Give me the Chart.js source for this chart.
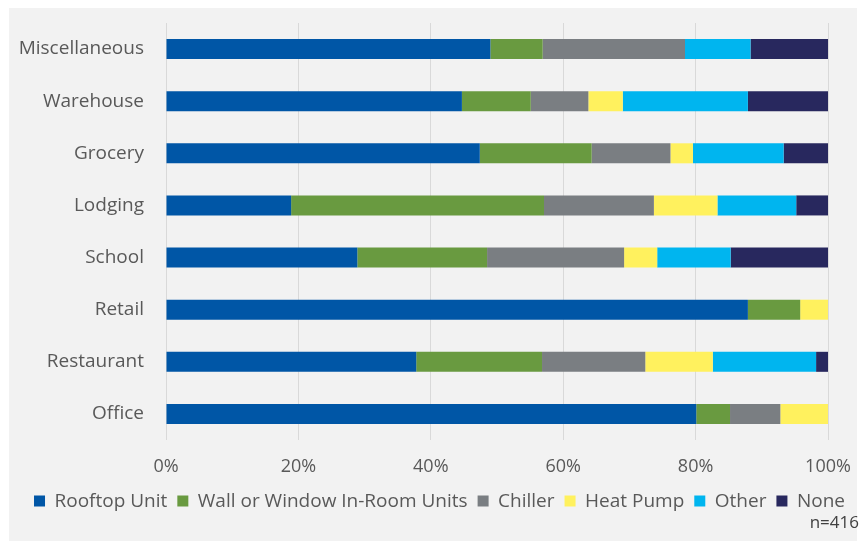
<!DOCTYPE html>
<html>
<head>
<meta charset="utf-8">
<script src="https://cdn.jsdelivr.net/npm/chart.js@4"></script>
<style>
  body { margin: 0; background: #ffffff; }
  #wrap { width: 859px; height: 541px; }
</style>
</head>
<body>
<div id="wrap"><canvas id="myChart"></canvas></div>
<script>
// building types, top to bottom
const categories = ['Miscellaneous', 'Warehouse', 'Grocery', 'Lodging', 'School', 'Retail', 'Restaurant', 'Office'];

// share of buildings by cooling type (%)
const rooftopUnit = [49.0, 44.7, 47.4, 18.9, 28.9, 87.9, 37.8, 80.1];
const wallWindow  = [ 7.9, 10.4, 16.9, 38.2, 19.6,  7.9, 19.0,  5.1];
const chiller     = [21.5,  8.7, 11.9, 16.6, 20.7,  0.0, 15.6,  7.6];
const heatPump    = [ 0.0,  5.2,  3.4,  9.6,  5.0,  4.2, 10.2,  7.2];
const other       = [ 9.9, 18.9, 13.7, 11.9, 11.1,  0.0, 15.6,  0.0];
const none        = [11.7, 12.1,  6.7,  4.8, 14.7,  0.0,  1.8,  0.0];

const sampleNote = 'n=416';

const textColor = '#595959';
const fontFamily = "'Open Sans', 'DejaVu Sans', sans-serif";

// light gray panel behind the chart
const panelBg = {
    id: 'panelBg',
    beforeDraw(chart) {
        const c = chart.ctx;
        c.save();
        c.fillStyle = '#f2f2f2';
        c.fillRect(9, 8, 848, 533);
        c.restore();
    }
};

const ctx = document.getElementById('myChart');
new Chart(ctx.getContext('2d'), {
    type: 'bar',
    data: {
        labels: categories,
        datasets: [
            { label: 'Rooftop Unit', data: rooftopUnit, backgroundColor: '#0056a6' },
            { label: 'Wall or Window In-Room Units', data: wallWindow, backgroundColor: '#699a40' },
            { label: 'Chiller', data: chiller, backgroundColor: '#7a7e82' },
            { label: 'Heat Pump', data: heatPump, backgroundColor: '#fff15e' },
            { label: 'Other', data: other, backgroundColor: '#00b5ef' },
            { label: 'None', data: none, backgroundColor: '#28285e' }
        ]
    },
    options: {
        indexAxis: 'y',
        responsive: true,
        maintainAspectRatio: false,
        animation: false,
        datasets: {
            bar: {
                categoryPercentage: 0.8,
                barPercentage: 0.48,
                borderWidth: 0
            }
        },
        layout: {
            padding: { top: 23, right: 0, bottom: 8, left: 20 }
        },
        scales: {
            x: {
                stacked: true,
                min: 0,
                max: 100,
                border: { display: false },
                grid: { color: '#d9d9d9', drawTicks: false },
                ticks: {
                    stepSize: 20,
                    padding: 16,
                    color: textColor,
                    font: { family: fontFamily, size: 18 },
                    callback: v => v + '%'
                },
                afterFit(scale) {
                    // fixed right margin so the legend can use the full width
                    scale.paddingLeft = 0;
                    scale.paddingRight = 31;
                    scale.height -= 12;
                }
            },
            y: {
                stacked: true,
                border: { display: false },
                grid: { display: false, drawTicks: false },
                ticks: {
                    padding: 22,
                    color: textColor,
                    font: { family: fontFamily, size: 19 }
                },
                afterFit(scale) {
                    scale.width = 146;
                    scale.paddingTop = 0;
                    scale.paddingBottom = 0;
                }
            }
        },
        plugins: {
            legend: {
                position: 'bottom',
                labels: {
                    color: textColor,
                    font: { family: fontFamily, size: 19 },
                    boxWidth: 11,
                    boxHeight: 11,
                    padding: 10
                }
            },
            title: {
                display: true,
                position: 'bottom',
                align: 'end',
                text: sampleNote,
                color: '#404040',
                font: { family: fontFamily, size: 17, weight: 'normal' },
                padding: { top: -8, bottom: 0 }
            },
            tooltip: { enabled: false }
        }
    },
    plugins: [panelBg]
});
</script>
</body>
</html>
